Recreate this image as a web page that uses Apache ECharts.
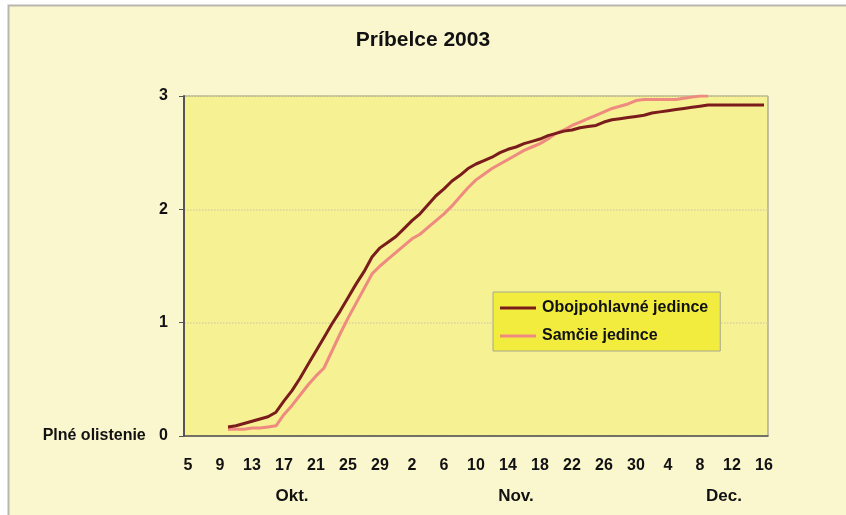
<!DOCTYPE html>
<html lang="sk">
<head>
<meta charset="UTF-8">
<title>Príbelce 2003</title>
<script src="https://cdn.jsdelivr.net/npm/echarts@6/dist/echarts.min.js"></script>
<style>
  html, body { margin: 0; padding: 0; background: #fff; }
  #main { width: 846px; height: 515px; }
</style>
</head>
<body>
<div id="main"></div>
<script>
// dni od 5. okt. do 16. dec. (73 dni)
var monthDays = [['Okt.', 5, 31], ['Nov.', 1, 30], ['Dec.', 1, 16]];
var days = [];
monthDays.forEach(function (m) {
  for (var d = m[1]; d <= m[2]; d++) days.push(String(d));
});
// kde stoja popisky mesiacov (index dna)
var monthLabelAt = { 13: 'Okt.', 41: 'Nov.', 67: 'Dec.' };

// odčítané z grafu, od 10. okt.
var obojpohlavne = [
  0.08, 0.09, 0.11, 0.13, 0.15, 0.17, 0.21, 0.31, 0.40, 0.51,
  0.63, 0.75, 0.87, 0.99, 1.10, 1.22, 1.34, 1.45, 1.58, 1.66,
  1.71, 1.76, 1.83, 1.90, 1.96, 2.04, 2.12, 2.18, 2.25, 2.30,
  2.36, 2.40, 2.43, 2.46, 2.50, 2.53, 2.55, 2.58, 2.60, 2.62,
  2.65, 2.67, 2.69, 2.70, 2.72, 2.73, 2.74, 2.77, 2.79, 2.80,
  2.81, 2.82, 2.83, 2.85, 2.86, 2.87, 2.88, 2.89, 2.90, 2.91,
  2.92, 2.92, 2.92, 2.92, 2.92, 2.92, 2.92, 2.92
];
var samcie = [
  0.06, 0.06, 0.06, 0.07, 0.07, 0.08, 0.09, 0.19, 0.27, 0.36,
  0.45, 0.53, 0.60, 0.75, 0.90, 1.04, 1.17, 1.30, 1.43, 1.50,
  1.56, 1.62, 1.68, 1.74, 1.78, 1.84, 1.90, 1.96, 2.03, 2.11,
  2.19, 2.26, 2.31, 2.36, 2.40, 2.44, 2.48, 2.52, 2.55, 2.58,
  2.62, 2.67, 2.70, 2.74, 2.77, 2.80, 2.83, 2.86, 2.89, 2.91,
  2.93, 2.96, 2.97, 2.97, 2.97, 2.97, 2.97, 2.98, 2.99, 3.00,
  3.00
];
var startIndex = 5; // 10. okt.

function pad(arr) {
  var out = [];
  for (var i = 0; i < days.length; i++) {
    var v = arr[i - startIndex];
    out.push(v === undefined ? null : v);
  }
  return out;
}

var font = "'Liberation Sans Narrow', 'Liberation Sans', Arial, sans-serif";
var myChart = echarts.init(document.getElementById('main'));
var option = {
  backgroundColor: '#fff',
  animation: false,
  textStyle: { fontFamily: font },
  graphic: [{
    type: 'rect', z: -10, silent: true,
    shape: { x: 8.5, y: 5.5, width: 860, height: 530 },
    style: { fill: '#FAF6CD', stroke: '#b8b8b0', lineWidth: 2 }
  }],
  title: {
    text: 'Príbelce 2003',
    left: 'center', top: 25,
    textStyle: { fontFamily: "'Liberation Sans', Arial, sans-serif", fontSize: 21, fontWeight: 'bold', color: '#111' }
  },
  grid: {
    left: 184, right: 78, top: 96, bottom: 79,
    show: true, backgroundColor: '#F6F192', borderColor: '#8a8a80', borderWidth: 1
  },
  legend: {
    orient: 'vertical',
    left: 493, top: 292,
    padding: [8, 12, 7, 7],
    itemGap: 12,
    backgroundColor: '#F1EC3E',
    borderColor: '#a8a890', borderWidth: 1,
    icon: 'rect', itemWidth: 36, itemHeight: 3,
    textStyle: { fontFamily: "'Liberation Sans', Arial, sans-serif", fontSize: 16, fontWeight: 'bold', color: '#111', width: 170, padding: [0, 0, 0, 1] },
    data: ['Obojpohlavné jedince', 'Samčie jedince']
  },
  xAxis: [{
    type: 'category',
    data: days,
    boundaryGap: true,
    axisLine: { lineStyle: { color: '#555', width: 1.5 } },
    axisTick: { interval: 0, length: 4, lineStyle: { color: '#777' } },
    axisLabel: {
      interval: 3, margin: 22,
      fontSize: 16, fontWeight: 'bold', color: '#111', fontFamily: font
    }
  }, {
    type: 'category',
    data: days,
    position: 'bottom',
    offset: 30,
    axisLine: { show: false },
    axisTick: { show: false },
    axisLabel: {
      interval: 0, margin: 22,
      fontSize: 17, fontWeight: 'bold', color: '#111', fontFamily: font,
      formatter: function (v, i) { return monthLabelAt[i] || ''; }
    }
  }],
  yAxis: {
    type: 'value',
    min: 0, max: 3, interval: 1,
    axisLine: { show: true, lineStyle: { color: '#555', width: 2 } },
    axisTick: { show: true, length: 5, lineStyle: { color: '#555' } },
    splitLine: { lineStyle: { color: '#d9d4a0', type: 'dotted', width: 1.5 } },
    axisLabel: {
      margin: 16,
      fontSize: 16, fontWeight: 'bold', color: '#111', fontFamily: font,
      formatter: function (v) { return v === 0 ? '{a|Plné olistenie}   0' : String(v); },
      rich: {
        a: { fontSize: 16, fontWeight: 'bold', color: '#111', fontFamily: "'Liberation Sans', Arial, sans-serif" }
      }
    }
  },
  series: [{
    name: 'Obojpohlavné jedince',
    type: 'line',
    data: pad(obojpohlavne),
    symbol: 'none',
    lineStyle: { color: '#7A1C1C', width: 3 },
    itemStyle: { color: '#7A1C1C' },
    z: 3
  }, {
    name: 'Samčie jedince',
    type: 'line',
    data: pad(samcie),
    symbol: 'none',
    lineStyle: { color: '#EE8A80', width: 3 },
    itemStyle: { color: '#EE8A80' },
    z: 2
  }]
};
myChart.setOption(option);
</script>
</body>
</html>
